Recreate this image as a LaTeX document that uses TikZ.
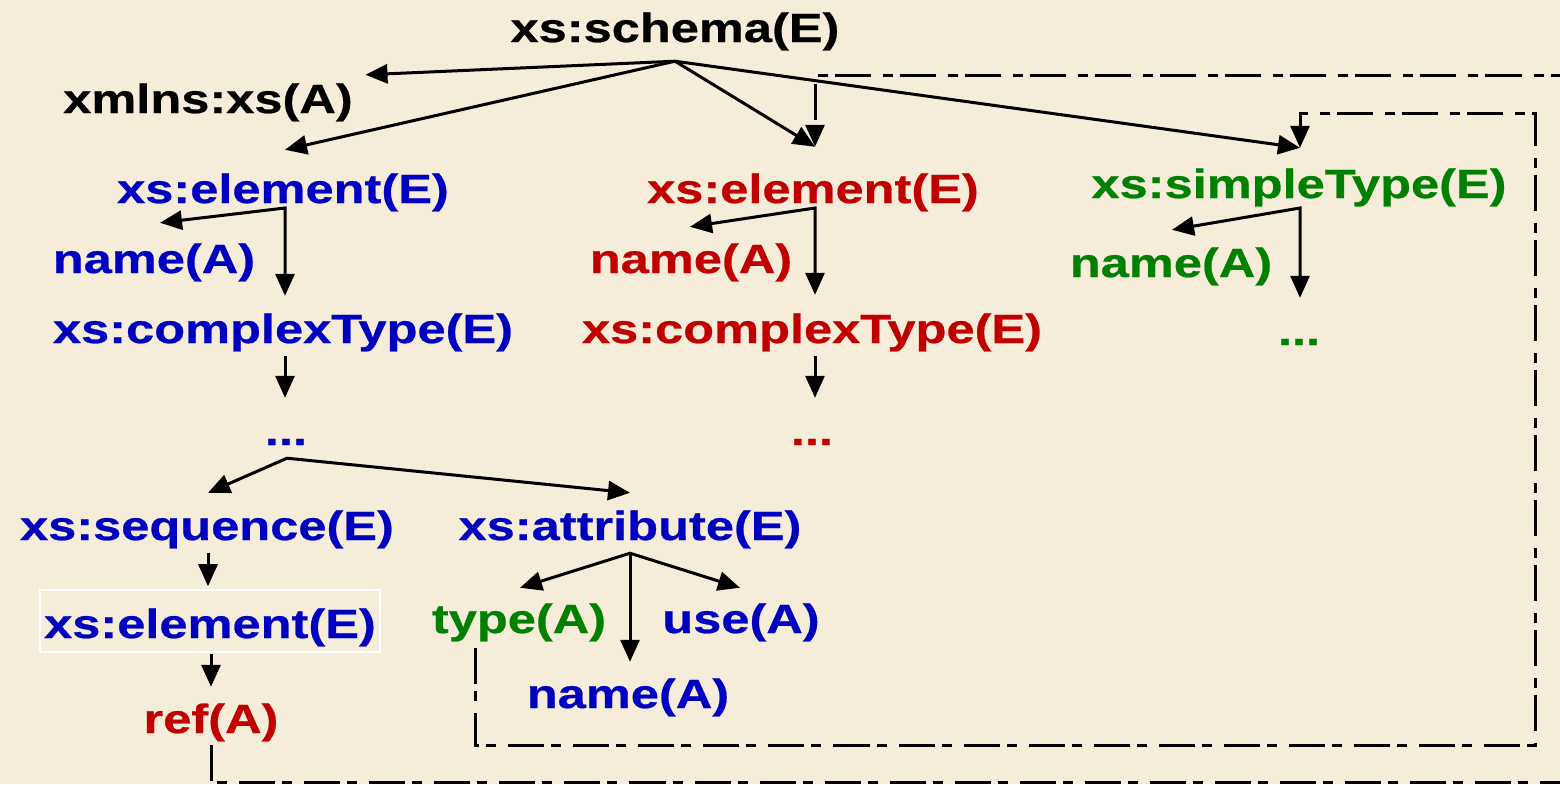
\documentclass[tikz,border=0pt]{standalone}
\usepackage{fontspec}
\newfontfamily\xsfont{Liberation Sans}[FakeStretch=1.24, FakeBold=0.6]
\usetikzlibrary{arrows.meta,calc}
\definecolor{paper}{RGB}{245,237,218}
\definecolor{xsblue}{RGB}{0,0,192}
\definecolor{xsred}{RGB}{192,0,0}
\definecolor{xsgreen}{RGB}{0,128,0}

\begin{document}
\begin{tikzpicture}[x=0.01cm, y=-0.01cm,
    >={Triangle[length=0.22cm, width=0.19cm]},
    lbl/.style={anchor=base, inner sep=0pt, text height=0.295cm, text depth=0.085cm,
        font=\xsfont\bfseries\fontsize{11.6}{13}\selectfont},
    arr/.style={line width=0.03cm},
    link/.style={arr, dash pattern=on 0.36cm off 0.07cm on 0.1cm off 0.12cm}]
    \useasboundingbox (0, 0) rectangle (1560, 784);
    \fill[paper] (0, 0) rectangle (1560, 784);
    \clip (0, 0) rectangle (1560, 784);

    \node[lbl] (schema) at (675, 42) {xs:schema(E)};
    \node[lbl] (xmlns) at (208, 113) {xmlns:xs(A)};

    \node[lbl, xsblue] (elA) at (283, 203) {xs:element(E)};
    \node[lbl, xsblue] (nameA) at (154, 273) {name(A)};
    \node[lbl, xsblue] (ctA) at (283, 343) {xs:complexType(E)};
    \node[lbl, xsblue] (dotsA) at (286, 445) {...};

    \node[lbl, xsred] (elB) at (813, 203) {xs:element(E)};
    \node[lbl, xsred] (nameB) at (691, 273) {name(A)};
    \node[lbl, xsred] (ctB) at (812, 343) {xs:complexType(E)};
    \node[lbl, xsred] (dotsB) at (812, 445) {...};

    \node[lbl, xsgreen] (st) at (1299, 198) {xs:simpleType(E)};
    \node[lbl, xsgreen] (nameG) at (1171, 277) {name(A)};
    \node[lbl, xsgreen] (dotsG) at (1299, 345) {...};

    \node[lbl, xsblue] (seq) at (207, 540) {xs:sequence(E)};
    \node[lbl, xsblue] (attr) at (630, 540) {xs:attribute(E)};
    \node[lbl, xsblue, draw=white, line width=0.015cm, inner xsep=0.04cm,
        text height=0.48cm, text depth=0.14cm] (elC) at (210, 638) {xs:element(E)};
    \node[lbl, xsred] (refA) at (211, 733) {ref(A)};
    \node[lbl, xsgreen] (typeA) at (519, 633) {type(A)};
    \node[lbl, xsblue] (useA) at (741, 633) {use(A)};
    \node[lbl, xsblue] (nameC) at (628, 708) {name(A)};

    \coordinate (schemaFork) at ($(schema.south)+(0, 10)$);
    \draw[arr, ->] (schemaFork) -- ($(xmlns.north east)+(12, -8)$);
    \draw[arr, ->] (schemaFork) -- ($(elA.north)+(2, -23)$);
    \draw[arr, ->] (schemaFork) -- ($(elB.north)+(2, -26)$);
    \draw[arr, ->] (schemaFork) -- ($(st.north)+(1, -20)$);

    \draw[arr, <->] ($(nameA.north)+(6, -20)$) -- ($(elA.base)+(2, 5)$) -- ($(ctA.north)+(2, -17)$);
    \draw[arr, <->] ($(nameB.north)+(-1, -16)$) -- ($(elB.base)+(2, 5)$) -- ($(ctB.north)+(3, -18)$);
    \draw[arr, <->] ($(nameG.north)+(1, -17)$) -- ($(st.base)+(1, 10)$) -- ($(dotsG.north)+(1, -17)$);

    \draw[arr, ->] ($(ctA.south)+(2, 4)$) -- ($(dotsA.north)+(-1, -17)$);
    \draw[arr, ->] ($(ctB.south)+(3, 4)$) -- ($(dotsB.north)+(3, -17)$);

    \draw[arr, <->] ($(seq.north)+(1, -17)$) -- ($(dotsA.south)+(1, 4)$) -- ($(attr.north)+(0, -17)$);
    \draw[arr, ->] ($(seq.south)+(1, 4)$) -- ($(elC.north)+(-2, -3)$);
    \draw[arr, ->] ($(elC.south)+(1, 1)$) -- ($(refA.north)+(0, -16)$);

    \coordinate (attrFork) at ($(attr.south)+(0, 4)$);
    \draw[arr, <->] ($(typeA.north)+(1, -15)$) -- (attrFork) -- ($(useA.north)+(-1, -15)$);
    \draw[arr, ->] (attrFork) -- ($(nameC.north)+(2, -16)$);

    \coordinate (outerLow) at (1600, 782);
    \coordinate (outerHigh) at (1600, 75);
    \coordinate (innerLow) at (1535, 745);
    \coordinate (innerHigh) at (1535, 113);
    \draw[link, ->] ($(refA.south)+(0, 3)$) |- (outerLow) -- (outerHigh) -| ($(elB.north)+(2, -26)$);
    \draw[link, ->] ($(typeA.south)+(-44, 6)$) |- (innerLow) -- (innerHigh) -| ($(st.north)+(1, -20)$);
\end{tikzpicture}
\end{document}
